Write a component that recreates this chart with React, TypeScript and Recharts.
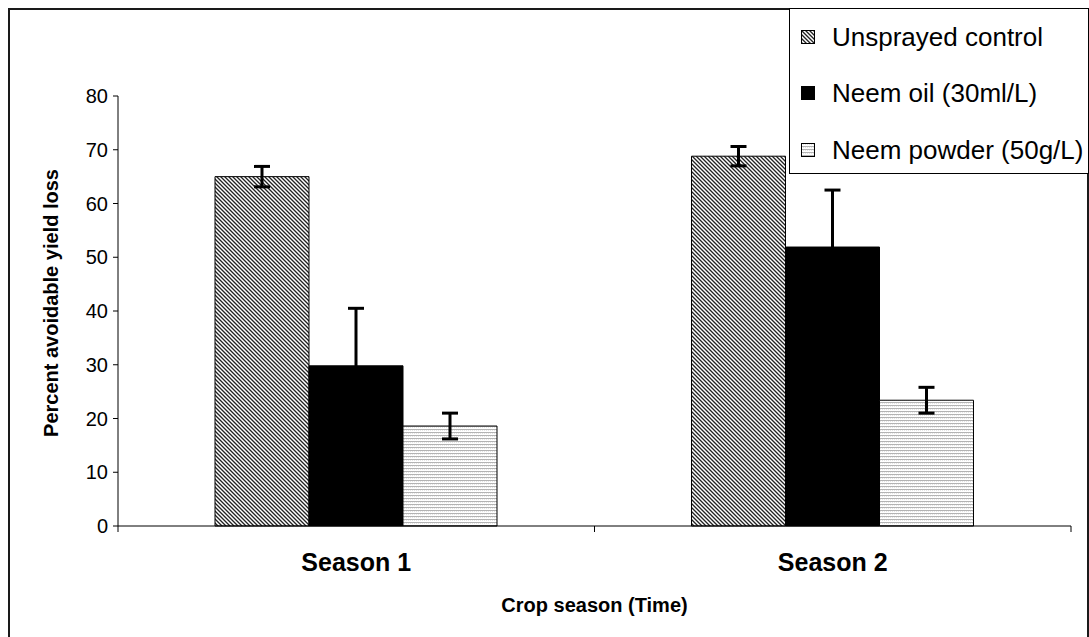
import React from 'react'
import { BarChart, Bar, XAxis, YAxis, ErrorBar, Legend } from 'recharts'

// ---------------------------------------------------------------------------
// Data
// ---------------------------------------------------------------------------

const seasons = ['Season 1', 'Season 2']
const seriesNames = ['Unsprayed control', 'Neem oil (30ml/L)', 'Neem powder (50g/L)']
const unsprayed = [65, 68.8]
const unsprayedErr = [1.9, 1.8]
const neemOil = [29.8, 51.9]
const neemOilErr = [10.7, 10.6]
const neemPowder = [18.6, 23.4]
const neemPowderErr = [2.4, 2.4]
const yTicks = [0, 10, 20, 30, 40, 50, 60, 70, 80]

const data = seasons.map((season, i) => ({
  season,
  unsprayed: unsprayed[i],
  unsprayedErr: unsprayedErr[i],
  neemOil: neemOil[i],
  neemOilErr: neemOilErr[i],
  neemPowder: neemPowder[i],
  neemPowderErr: neemPowderErr[i],
}))

const FONT = '"Liberation Sans", Arial, Helvetica, sans-serif'

// ---------------------------------------------------------------------------
// Axis pieces
// ---------------------------------------------------------------------------

function SeasonTick(props: any) {
  const { x, y, payload, index } = props
  const half = payload.offset ?? 0
  return (
    <g>
      {index === 0 && <line x1={x - half} x2={x - half} y1={y} y2={y + 6} stroke="#000" />}
      <line x1={x + half} x2={x + half} y1={y} y2={y + 6} stroke="#000" />
      <text
        x={x}
        y={y + 45}
        textAnchor="middle"
        fontFamily={FONT}
        fontWeight="bold"
        fontSize={25}
        fill="#000"
      >
        {payload.value}
      </text>
    </g>
  )
}

function XTitle(props: any) {
  const { viewBox } = props
  return (
    <text
      x={viewBox.x + viewBox.width / 2}
      y={viewBox.y + 86}
      textAnchor="middle"
      fontFamily={FONT}
      fontWeight="bold"
      fontSize={20}
      fill="#000"
    >
      Crop season (Time)
    </text>
  )
}

function YTitle(props: any) {
  const { viewBox } = props
  const cx = viewBox.x - 7
  const cy = viewBox.y + viewBox.height / 2 - 8
  return (
    <text
      x={cx}
      y={cy}
      transform={`rotate(-90 ${cx} ${cy})`}
      textAnchor="middle"
      dominantBaseline="central"
      fontFamily={FONT}
      fontWeight="bold"
      fontSize={20}
      fill="#000"
    >
      Percent avoidable yield loss
    </text>
  )
}

function LegendBox(props: any) {
  const items = [...(props.payload || [])].sort(
    (a: any, b: any) => seriesNames.indexOf(a.value) - seriesNames.indexOf(b.value),
  )
  return (
    <div style={{ position: 'relative', width: '100%', height: '100%' }}>
      {items.map((entry: any, i: number) => (
        <div
          key={i}
          style={{
            position: 'absolute',
            left: 11,
            top: 28 + i * 56.5 - 15,
            height: 30,
            display: 'flex',
            alignItems: 'center',
            whiteSpace: 'nowrap',
          }}
        >
          <svg width={15} height={15} style={{ marginRight: 16 }}>
            <rect x={0.5} y={0.5} width={13} height={13} fill={entry.color} stroke="#000" strokeWidth={1} />
          </svg>
          <span style={{ fontFamily: FONT, fontSize: 26, color: '#000' }}>{entry.value}</span>
        </div>
      ))}
    </div>
  )
}

// ---------------------------------------------------------------------------
// Chart
// ---------------------------------------------------------------------------

export default function App() {
  return (
    <div
      style={{
        position: 'absolute',
        left: 0,
        top: 0,
        width: 1089,
        height: 637,
        background: '#fff',
        overflow: 'hidden',
      }}
    >
      {/* outer frame */}
      <div
        style={{
          position: 'absolute',
          left: 8,
          top: 8,
          width: 1081,
          height: 700,
          border: '2px solid #1a1a1a',
          boxSizing: 'border-box',
        }}
      />
      <BarChart
        width={1089}
        height={637}
        data={data}
        margin={{ top: 96, right: 18, left: 58, bottom: 81 }}
        barCategoryGap={97}
        barGap={0}
        style={{ fontFamily: FONT }}
      >
        <defs>
          <pattern id="pat-unsprayed" width="4" height="4" patternUnits="userSpaceOnUse">
            <rect width="4" height="4" fill="#999" />
            <rect x="0" y="0" width="1" height="1" fill="#222" />
            <rect x="1" y="1" width="1" height="1" fill="#222" />
            <rect x="2" y="2" width="1" height="1" fill="#222" />
            <rect x="3" y="3" width="1" height="1" fill="#222" />
            <rect x="2" y="0" width="1" height="1" fill="#fff" />
            <rect x="3" y="1" width="1" height="1" fill="#fff" />
            <rect x="0" y="2" width="1" height="1" fill="#fff" />
            <rect x="1" y="3" width="1" height="1" fill="#fff" />
          </pattern>
          <pattern id="pat-powder" width="2" height="3" patternUnits="userSpaceOnUse">
            <rect width="2" height="3" fill="#fff" />
            <rect x="0" y="0" width="2" height="1" fill="#b4b4b4" />
            <rect x="0" y="1" width="1" height="1" fill="#e6e6e6" />
          </pattern>
        </defs>
        <XAxis
          dataKey="season"
          axisLine={{ stroke: '#000' }}
          tickLine={false}
          tickSize={0}
          tickMargin={0}
          height={30}
          interval={0}
          tick={<SeasonTick />}
          label={{ content: <XTitle /> }}
        />
        <YAxis
          domain={[0, 80]}
          ticks={yTicks}
          interval={0}
          width={60}
          axisLine={{ stroke: '#000' }}
          tickLine={{ stroke: '#000' }}
          tickSize={5}
          tickMargin={5}
          tick={{ fill: '#000', fontSize: 20, fontFamily: FONT }}
          label={{ content: <YTitle /> }}
        />
        <Legend
          layout="vertical"
          align="center"
          verticalAlign="middle"
          content={<LegendBox />}
          wrapperStyle={{
            left: 789,
            top: 8,
            width: 300,
            height: 166,
            border: '1px solid #000',
            background: '#fff',
            boxSizing: 'border-box',
          }}
        />
        <Bar
          dataKey="unsprayed"
          name={seriesNames[0]}
          fill="url(#pat-unsprayed)"
          stroke="#000"
          strokeWidth={1}
          isAnimationActive={false}
        >
          <ErrorBar dataKey="unsprayedErr" width={8} strokeWidth={3} stroke="#000" direction="y" />
        </Bar>
        <Bar
          dataKey="neemOil"
          name={seriesNames[1]}
          fill="#000"
          stroke="#000"
          strokeWidth={1}
          isAnimationActive={false}
        >
          <ErrorBar dataKey="neemOilErr" width={8} strokeWidth={3} stroke="#000" direction="y" />
        </Bar>
        <Bar
          dataKey="neemPowder"
          name={seriesNames[2]}
          fill="url(#pat-powder)"
          stroke="#000"
          strokeWidth={1}
          isAnimationActive={false}
        >
          <ErrorBar dataKey="neemPowderErr" width={8} strokeWidth={3} stroke="#000" direction="y" />
        </Bar>
      </BarChart>
    </div>
  )
}
